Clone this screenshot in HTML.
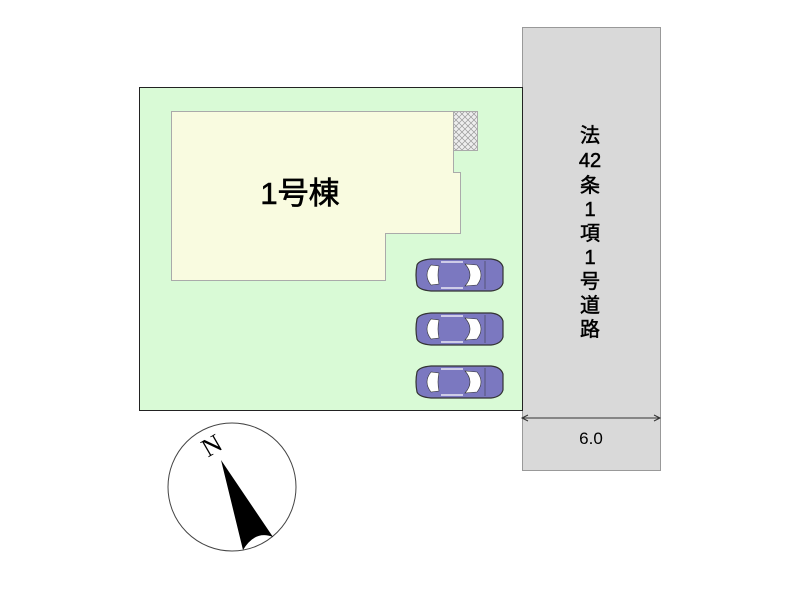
<!DOCTYPE html>
<html><head><style>body{margin:0;background:#fff}</style></head><body>
<svg width="800" height="600" xmlns="http://www.w3.org/2000/svg">
<defs>
<pattern id="h" width="6" height="6" patternUnits="userSpaceOnUse"><rect width="6" height="6" fill="#eee"/><path d="M0 0L6 6M6 0L0 6" stroke="#999" stroke-width="0.7"/></pattern>
<g id="car">
<path d="M2 6 Q0 16 2 26 Q4 31 16 32 L76 32 Q86 31 88 24 L88 8 Q86 1 76 0 L16 0 Q4 1 2 6Z" fill="#7b78c0" stroke="#333" stroke-width="1.2"/>
<path d="M16 6 Q8 16 16 26 L24 25 Q22 16 24 7Z" fill="#fff" stroke="#333" stroke-width="0.6"/>
<path d="M50 5 Q60 16 50 27 L62 26 Q70 16 62 6Z" fill="#fff" stroke="#333" stroke-width="0.6"/>
<line x1="26" y1="3" x2="48" y2="3" stroke="#fff" stroke-width="1.2"/>
<line x1="26" y1="29" x2="48" y2="29" stroke="#fff" stroke-width="1.2"/>
<line x1="70" y1="2" x2="70" y2="30" stroke="#333" stroke-width="0.5"/>
</g>
</defs>
<rect x="522.5" y="27.5" width="138" height="443" fill="#d9d9d9" stroke="#999"/>
<rect x="139.5" y="87.5" width="383" height="323" fill="#d9fad6" stroke="#222"/>
<polygon points="171.5,111.5 453.5,111.5 453.5,172.5 460.5,172.5 460.5,233.5 385.5,233.5 385.5,280.5 171.5,280.5" fill="#f9fbe0" stroke="#aaa"/>
<rect x="453.5" y="111.5" width="24" height="39" fill="url(#h)" stroke="#aaa"/>
<text x="300" y="204" font-family="Liberation Sans,'Noto Sans CJK JP',sans-serif" font-size="31" text-anchor="middle" stroke="#000" stroke-width="0.6">1号棟</text>
<use href="#car" x="415" y="259"/>
<use href="#car" x="415" y="313"/>
<use href="#car" x="415" y="366"/>
<g font-family="Liberation Sans,'Noto Sans CJK JP',sans-serif" font-size="20" text-anchor="middle" stroke="#000" stroke-width="0.5">
<text x="590" y="142">法</text><text x="590" y="167">42</text><text x="590" y="192">条</text><text x="590" y="216">1</text><text x="590" y="240">項</text><text x="590" y="264">1</text><text x="590" y="288">号</text><text x="590" y="312">道</text><text x="590" y="336">路</text>
</g>
<line x1="522" y1="418" x2="660" y2="418" stroke="#333"/>
<path d="M528 415L522 418L528 421M654 415L660 418L654 421" fill="none" stroke="#333"/>
<text x="591" y="444" font-family="Liberation Sans,sans-serif" font-size="17" text-anchor="middle">6.0</text>
<circle cx="232" cy="487" r="64" fill="#fff" stroke="#444"/>
<path d="M221 460 L273 537 Q255 530 243 550Z" fill="#000"/>
<text x="212" y="454" font-family="Liberation Serif,serif" font-size="26" transform="rotate(-30 212 446)" text-anchor="middle">N</text>
</svg>
</body></html>
